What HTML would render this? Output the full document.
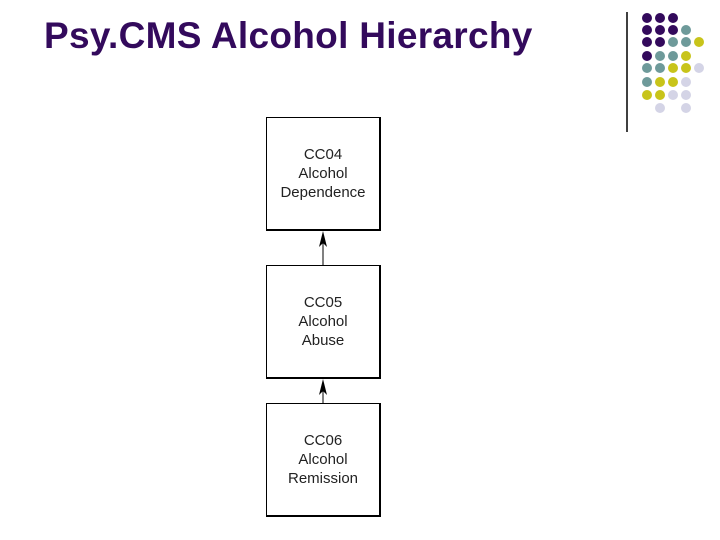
<!DOCTYPE html><html><head><style>
body{margin:0;width:720px;height:540px;background:#fff;position:relative;overflow:hidden;font-family:"Liberation Sans",sans-serif}
h1{position:absolute;left:44px;top:15px;margin:0;font-size:37px;font-weight:bold;color:#330a5c;white-space:nowrap;letter-spacing:0.3px}
.b{position:absolute;left:266px;border:1px solid #000;border-right:2px solid #000;border-bottom:2px solid #000;box-sizing:border-box;width:115px;height:114px;display:flex;align-items:center;justify-content:center;text-align:center;font-size:15px;line-height:19px;color:#222}
</style></head><body>
<h1>Psy.CMS Alcohol Hierarchy</h1>
<svg width="720" height="540" style="position:absolute;left:0;top:0">
<line x1="627" y1="12" x2="627" y2="132" stroke="#000" stroke-width="1.5"/>
<line x1="323" y1="265" x2="323" y2="235" stroke="#000"/>
<polygon points="323,231 319,247 323,243 327,247" fill="#000"/>
<line x1="323" y1="403" x2="323" y2="383" stroke="#000"/>
<polygon points="323,379 319,395 323,391 327,395" fill="#000"/>
<g>
<circle cx="647" cy="18" r="5" fill="#330a5c"/><circle cx="660" cy="18" r="5" fill="#330a5c"/><circle cx="673" cy="18" r="5" fill="#330a5c"/>
<circle cx="647" cy="30" r="5" fill="#330a5c"/><circle cx="660" cy="30" r="5" fill="#330a5c"/><circle cx="673" cy="30" r="5" fill="#330a5c"/><circle cx="686" cy="30" r="5" fill="#6e9a9a"/>
<circle cx="647" cy="42" r="5" fill="#330a5c"/><circle cx="660" cy="42" r="5" fill="#330a5c"/><circle cx="673" cy="42" r="5" fill="#6e9a9a"/><circle cx="686" cy="42" r="5" fill="#6e9a9a"/><circle cx="699" cy="42" r="5" fill="#c8c41a"/>
<circle cx="647" cy="56" r="5" fill="#330a5c"/><circle cx="660" cy="56" r="5" fill="#6e9a9a"/><circle cx="673" cy="56" r="5" fill="#6e9a9a"/><circle cx="686" cy="56" r="5" fill="#c8c41a"/>
<circle cx="647" cy="68" r="5" fill="#6e9a9a"/><circle cx="660" cy="68" r="5" fill="#6e9a9a"/><circle cx="673" cy="68" r="5" fill="#c8c41a"/><circle cx="686" cy="68" r="5" fill="#c8c41a"/><circle cx="699" cy="68" r="5" fill="#d4d4e6"/>
<circle cx="647" cy="82" r="5" fill="#6e9a9a"/><circle cx="660" cy="82" r="5" fill="#c8c41a"/><circle cx="673" cy="82" r="5" fill="#c8c41a"/><circle cx="686" cy="82" r="5" fill="#d4d4e6"/>
<circle cx="647" cy="95" r="5" fill="#c8c41a"/><circle cx="660" cy="95" r="5" fill="#c8c41a"/><circle cx="673" cy="95" r="5" fill="#d4d4e6"/><circle cx="686" cy="95" r="5" fill="#d4d4e6"/>
<circle cx="660" cy="108" r="5" fill="#d4d4e6"/><circle cx="686" cy="108" r="5" fill="#d4d4e6"/>
</g>
</svg>
<div class="b" style="top:117px">CC04<br>Alcohol<br>Dependence</div>
<div class="b" style="top:265px">CC05<br>Alcohol<br>Abuse</div>
<div class="b" style="top:403px">CC06<br>Alcohol<br>Remission</div>
</body></html>
